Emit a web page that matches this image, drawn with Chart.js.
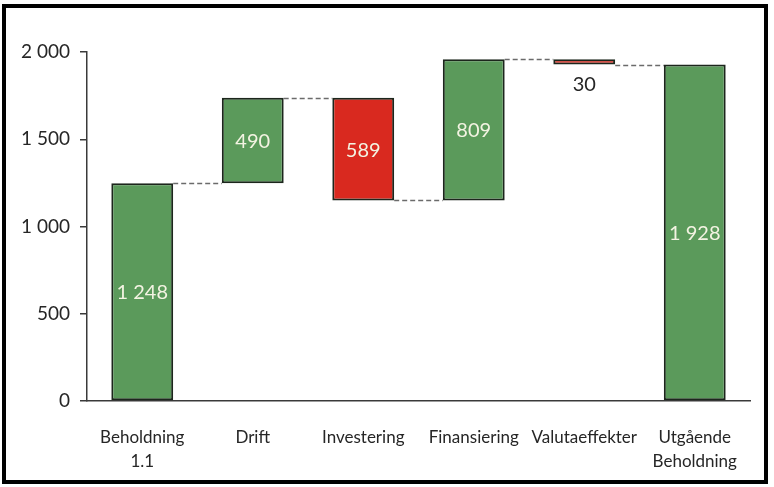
<!DOCTYPE html>
<html>
<head>
<meta charset="utf-8">
<script src="https://cdn.jsdelivr.net/npm/chart.js@4"></script>
<style>
  html, body { margin: 0; padding: 0; background: #fff; }
  #wrap { position: relative; width: 774px; height: 487px; }
  #frame { position: absolute; left: 2px; top: 4px; width: 758px; height: 472px; border: 4px solid #000; pointer-events: none; }
  canvas { position: absolute; left: 0; top: 0; }
</style>
</head>
<body>
<div id="wrap">
  <canvas id="chart" width="774" height="487"></canvas>
  <div id="frame"></div>
</div>
<script>
// Waterfall data
const categories = [['Beholdning', '1.1'], 'Drift', 'Investering', 'Finansiering', 'Valutaeffekter', ['Utgående', 'Beholdning']];
const changes = [1248, 490, -589, 809, -30, 1928];
const isTotal = [true, false, false, false, false, true];
const yTicks = [0, 500, 1000, 1500, 2000];

const green = '#5b9a5b';
const red = '#d9291f';

// Build floating ranges and running levels
const ranges = [];
const levels = [];
let running = 0;
changes.forEach((c, i) => {
    if (isTotal[i]) {
        ranges.push([0, c]);
        running = c;
    } else {
        ranges.push([running, running + c].sort((a, b) => a - b));
        running += c;
    }
    levels.push(running);
});
const colors = changes.map(c => c >= 0 ? green : red);

function fmt(v) {
    return Math.abs(v).toString().replace(/\B(?=(\d{3})+(?!\d))/g, ' ');
}

// Dashed connectors between bars
const connectors = {
    id: 'connectors',
    beforeDatasetsDraw(chart) {
        const ctx = chart.ctx;
        const meta = chart.getDatasetMeta(0);
        const y = chart.scales.y;
        ctx.save();
        ctx.strokeStyle = '#6b6b6b';
        ctx.lineWidth = 1.5;
        ctx.setLineDash([5, 3]);
        for (let i = 0; i < meta.data.length - 1; i++) {
            const a = meta.data[i], b = meta.data[i + 1];
            const py = Math.round(y.getPixelForValue(levels[i])) + 0.5;
            ctx.beginPath();
            ctx.moveTo(a.x + a.width / 2, py);
            ctx.lineTo(b.x - b.width / 2, py);
            ctx.stroke();
        }
        ctx.restore();
    }
};

// Value labels
const valueLabels = {
    id: 'valueLabels',
    afterDatasetsDraw(chart) {
        const ctx = chart.ctx;
        const meta = chart.getDatasetMeta(0);
        ctx.save();
        ctx.font = '20px Lato, "Open Sans", sans-serif';
        ctx.textAlign = 'center';
        ctx.textBaseline = 'middle';
        meta.data.forEach((bar, i) => {
            const top = Math.min(bar.y, bar.base);
            const bottom = Math.max(bar.y, bar.base);
            if (bottom - top < 26) {
                ctx.fillStyle = '#262626';
                ctx.fillText(fmt(changes[i]), bar.x, bottom + 20);
            } else {
                ctx.fillStyle = '#f3f3e2';
                ctx.fillText(fmt(changes[i]), bar.x, (top + bottom) / 2 + 1);
            }
        });
        ctx.restore();
    }
};

new Chart(document.getElementById('chart'), {
    type: 'bar',
    data: {
        labels: categories,
        datasets: [{
            data: ranges,
            backgroundColor: colors,
            borderColor: '#1c261c',
            borderWidth: 2,
            borderSkipped: false,
            categoryPercentage: 1,
            barPercentage: 0.56
        }]
    },
    options: {
        responsive: false,
        animation: false,
        layout: { padding: { left: 0, top: 52, right: 24, bottom: 0 } },
        plugins: {
            legend: { display: false },
            tooltip: { enabled: false }
        },
        scales: {
            x: {
                grid: { display: false, drawTicks: false },
                border: { color: '#3a3a3a', width: 1.5 },
                ticks: {
                    color: '#262626',
                    font: { family: 'Lato, "Open Sans", sans-serif', size: 17, lineHeight: 1.45 },
                    padding: 24,
                    maxRotation: 0,
                    autoSkip: false
                },
                afterFit(scale) { scale.height = 86; }
            },
            y: {
                min: 0,
                max: 2000,
                afterBuildTicks(scale) { scale.ticks = yTicks.map(v => ({ value: v })); },
                grid: { display: true, drawOnChartArea: false, drawTicks: true, tickLength: 7, color: '#3a3a3a', lineWidth: 1.5 },
                border: { color: '#3a3a3a', width: 1.5 },
                ticks: {
                    color: '#262626',
                    font: { family: 'Lato, "Open Sans", sans-serif', size: 19 },
                    padding: 10,
                    callback: v => fmt(v)
                },
                afterFit(scale) { scale.width = 87; }
            }
        }
    },
    plugins: [connectors, valueLabels]
});
</script>
</body>
</html>
